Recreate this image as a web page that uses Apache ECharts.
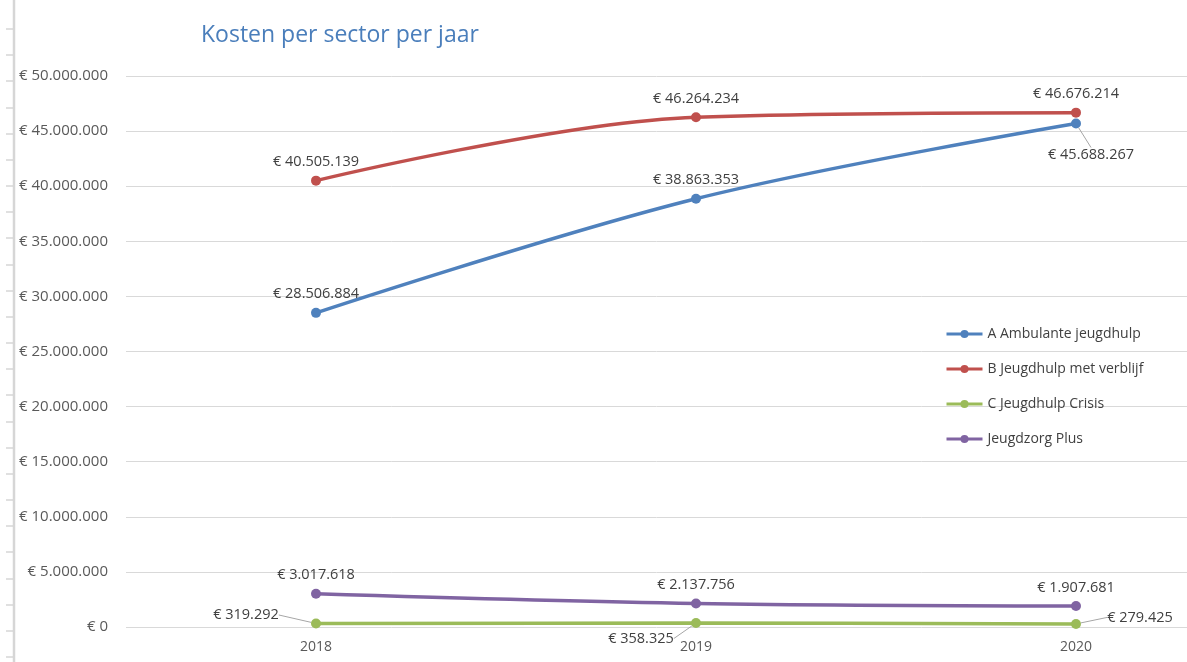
<!DOCTYPE html>
<html>
<head>
<meta charset="utf-8">
<script src="https://cdn.jsdelivr.net/npm/echarts@6/dist/echarts.min.js"></script>
<style>html,body{margin:0;padding:0;background:#fff;}#c{width:1187px;height:662px;}</style>
</head>
<body>
<div id="c"></div>
<script>
const categories = ['2018', '2019', '2020'];
const seriesNames = ['A Ambulante jeugdhulp', 'B Jeugdhulp met verblijf', 'C Jeugdhulp Crisis', 'Jeugdzorg Plus'];
const ambulante = [28506884, 38863353, 45688267];
const verblijf = [40505139, 46264234, 46676214];
const crisis = [319292, 358325, 279425];
const jeugdzorgPlus = [3017618, 2137756, 1907681];
const colors = ['#4F81BD', '#C0504D', '#9BBB59', '#8064A2'];

function euro(v) {
  const s = Math.round(v).toString().replace(/\B(?=(\d{3})+(?!\d))/g, '.');
  return '€ ' + s;
}

// label offsets (dx, dy) per series / point, in pixels relative to default 'top' placement
const labelShift = {
  0: {2: [15, 50]},
  2: {0: [-70, 10], 1: [-55, 34], 2: [64, 12]}
};

const font = '"Open Sans", "Liberation Sans", sans-serif';
const valuesList = [ambulante, verblijf, crisis, jeugdzorgPlus];
const years = categories.map(Number);

const chart = echarts.init(document.getElementById('c'));

const ticks = [];
for (let i = 0; i < 25; i++) {
  const y = Math.round(29 + i * 26.17);
  ticks.push({type: 'line', shape: {x1: 6, y1: y, x2: 14, y2: y}, style: {stroke: '#d6d6d6', lineWidth: 1.5}});
}

// category band is ~380px wide; the plot (126..1187) shows the first 2.79 bands
const xMin = years[0] - 0.5;
const xMax = xMin + 1061 / 380;

chart.setOption({
  animation: false,
  title: {
    text: 'Kosten per sector per jaar',
    left: 196, top: 19,
    textStyle: {color: '#4A7EBB', fontSize: 23, fontWeight: 'normal', fontFamily: font}
  },
  graphic: [
    {type: 'line', shape: {x1: 14, y1: 0, x2: 14, y2: 662}, style: {stroke: '#d6d6d6', lineWidth: 2.5}}
  ].concat(ticks),
  legend: {
    orient: 'vertical',
    left: 940, top: 322,
    itemWidth: 36, itemHeight: 10, itemGap: 21,
    lineStyle: {width: 3},
    textStyle: {color: '#404040', fontSize: 14, fontFamily: font},
    data: seriesNames
  },
  grid: {left: 126, top: 76, right: 0, bottom: 35, containLabel: false},
  xAxis: {
    type: 'value',
    min: xMin, max: xMax, interval: 0.5,
    axisLine: {show: false},
    axisTick: {show: false},
    splitLine: {show: false},
    axisLabel: {
      color: '#595959', fontSize: 14, fontFamily: font, margin: 13,
      showMinLabel: true, showMaxLabel: false,
      formatter: v => (Number.isInteger(v) && categories.indexOf(String(v)) >= 0) ? String(v) : ''
    }
  },
  yAxis: {
    type: 'value',
    min: 0, max: 50000000, interval: 5000000,
    axisLine: {show: false},
    axisTick: {show: false},
    splitLine: {lineStyle: {color: '#d9d9d9', width: 1}},
    axisLabel: {color: '#595959', fontSize: 15, fontFamily: font, margin: 18, formatter: euro}
  },
  series: valuesList.map((vals, si) => ({
    name: seriesNames[si],
    type: 'line',
    smooth: 0.35,
    clip: false,
    data: vals.map((v, di) => ({
      value: [years[di], v],
      labelLine: {show: !!(labelShift[si] && labelShift[si][di])}
    })),
    color: colors[si],
    lineStyle: {width: 3.5, color: colors[si]},
    symbol: 'circle',
    symbolSize: 10,
    itemStyle: {color: colors[si]},
    label: {
      show: true,
      position: 'top',
      distance: 6,
      color: '#404040',
      fontSize: 14.5,
      fontFamily: font,
      formatter: p => euro(p.value[1])
    },
    labelLine: {show: false, lineStyle: {color: '#a6a6a6', width: 1}},
    labelLayout: function (params) {
      const m = labelShift[si];
      if (m && m[params.dataIndex]) {
        return {dx: m[params.dataIndex][0], dy: m[params.dataIndex][1]};
      }
      return {};
    }
  }))
});
</script>
</body>
</html>
